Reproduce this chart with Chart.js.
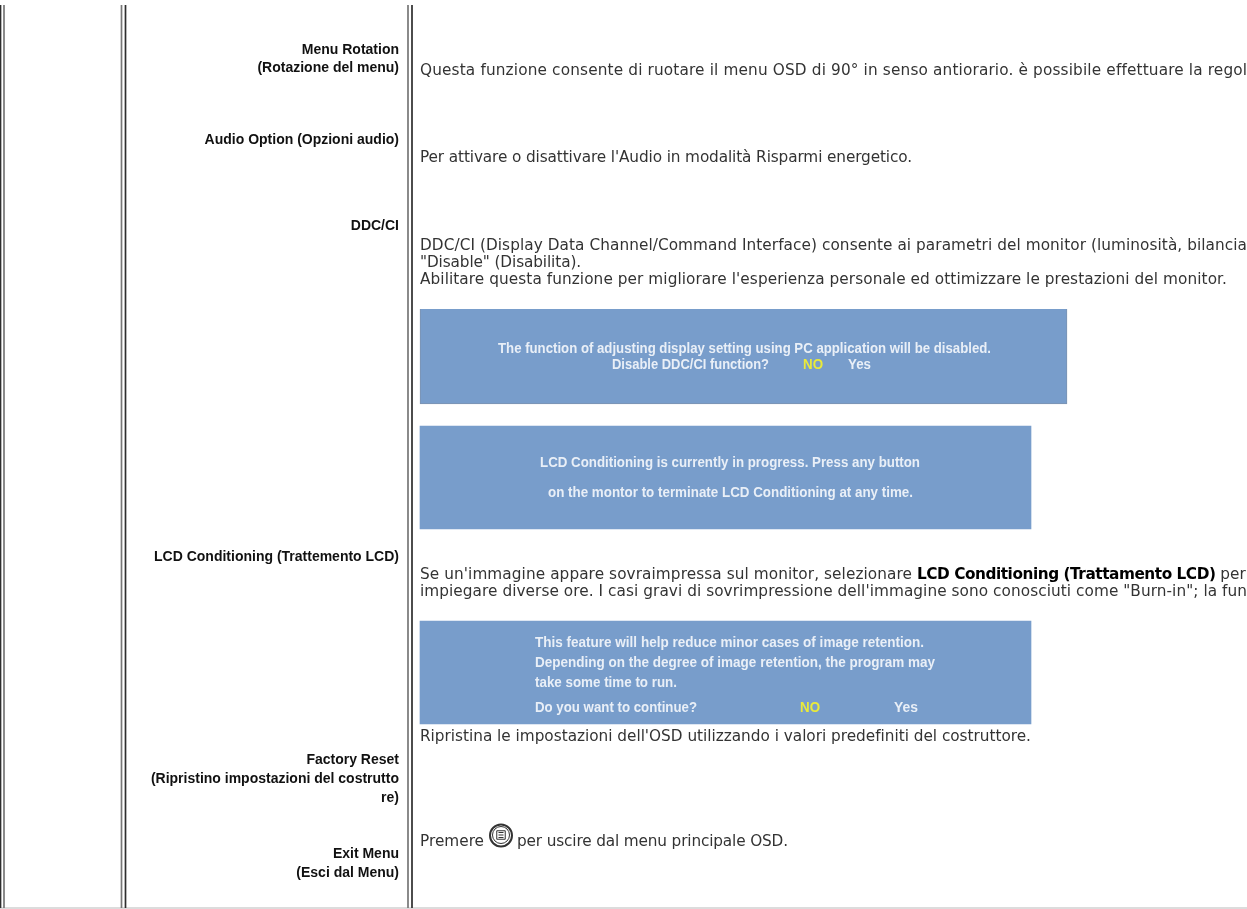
<!DOCTYPE html>
<html>
<head>
<meta charset="utf-8">
<style>
html,body{margin:0;padding:0;background:#fff;overflow:hidden}
#wrap{position:relative;width:1247px;height:909px}
</style>
<script src="https://cdn.jsdelivr.net/npm/chart.js@4/dist/chart.umd.min.js"></script>
</head>
<body>
<div id="wrap"><canvas id="chart" width="1247" height="909"></canvas></div>
<script>
// page rules and panels (axes run in px)
const ruleX = [0.5, 4, 121.5, 125.5, 408, 412]
const panelLeft = [420, 420, 420]
const panelRight = [1067, 1031, 1031]
const panelTop = [309, 426, 621]
const panelBottom = [404, 529, 724]
const iconLineY = [832.5, 835, 837.5]

const menuLabels = [
  'Menu Rotation', '(Rotazione del menu)', 'Audio Option (Opzioni audio)', 'DDC/CI',
  'LCD Conditioning (Trattemento LCD)', 'Factory Reset',
  '(Ripristino impostazioni del costrutto', 're)', 'Exit Menu', '(Esci dal Menu)'
]
const bodyLines = [
  'Questa funzione consente di ruotare il menu OSD di 90° in senso antiorario. è possibile effettuare la regol',
  "Per attivare o disattivare l'Audio in modalità Risparmi energetico.",
  'DDC/CI (Display Data Channel/Command Interface) consente ai parametri del monitor (luminosità, bilancia',
  '"Disable" (Disabilita).',
  "Abilitare questa funzione per migliorare l'esperienza personale ed ottimizzare le prestazioni del monitor.",
  'impiegare diverse ore. I casi gravi di sovrimpressione dell\'immagine sono conosciuti come "Burn-in"; la fun',
  "Ripristina le impostazioni dell'OSD utilizzando i valori predefiniti del costruttore."
]
const panelLines = [
  'The function of adjusting display setting using PC application will be disabled.',
  'Disable DDC/CI function?',
  'LCD Conditioning is currently in progress. Press any button',
  'on the montor to terminate LCD Conditioning at any time.',
  'This feature will help reduce minor cases of image retention.',
  'Depending on the degree of image retention, the program may',
  'take some time to run.',
  'Do you want to continue?'
]
const panelChoices = ['NO', 'Yes', 'NO', 'Yes']

// where the text sits
const menuY = [54, 72, 144, 230, 561, 764, 783, 802, 858, 877]
const bodyY = [75, 162, 250, 267, 284, 596, 741]
const bodyEnd = [1247, 912, 1247, 581, 1227, 1247, 1031]
const panelTextX = [498, 612, 540, 548, 535, 535, 535, 535]
const panelTextEnd = [991, 769, 920, 913, 924, 935, 677, 697]
const panelTextY = [353, 369, 467, 497, 647, 667, 687, 712]
const choiceX = [803, 848, 800, 894]
const choiceEnd = [823, 871, 820, 918]
const choiceY = [369, 369, 712, 712]

const bodyFont = '15.3px "DejaVu Sans"'
const bodyBold = 'bold 15.3px "DejaVu Sans"'
const bodyColor = '#333'

const pageText = {
  id: 'pageText',
  afterDatasetsDraw(chart) {
    const { ctx, scales: { x, y } } = chart
    ctx.save()
    ctx.textBaseline = 'alphabetic'

    ctx.fillStyle = '#111'
    ctx.textAlign = 'right'
    ctx.font = 'bold 14px "Liberation Sans"'
    menuLabels.forEach((t, i) => ctx.fillText(t, x.getPixelForValue(399), y.getPixelForValue(menuY[i])))

    ctx.textAlign = 'left'
    ctx.fillStyle = bodyColor
    ctx.font = bodyFont
    bodyLines.forEach((t, i) => {
      // the source font runs a little wider or narrower line by line
      ctx.letterSpacing = '0px'
      const gap = (bodyEnd[i] - 420 - ctx.measureText(t).width) / t.length
      ctx.letterSpacing = gap.toFixed(3) + 'px'
      ctx.fillText(t, x.getPixelForValue(420), y.getPixelForValue(bodyY[i]))
    })
    ctx.letterSpacing = '0px'

    // line with the bold run, then the line with the icon
    let cx = x.getPixelForValue(420)
    const runs = [
      ["Se un'immagine appare sovraimpressa sul monitor, selezionare ", bodyFont, bodyColor, '0.08px'],
      ['LCD Conditioning (Trattamento LCD)', bodyBold, '#000', '-0.45px'],
      [' per', bodyFont, bodyColor, '0px']
    ]
    runs.forEach(([t, font, color, spacing]) => {
      ctx.font = font
      ctx.fillStyle = color
      ctx.letterSpacing = spacing
      ctx.fillText(t, cx, y.getPixelForValue(579))
      cx += ctx.measureText(t).width
    })
    ctx.letterSpacing = '0px'
    ctx.font = bodyFont
    ctx.fillStyle = bodyColor
    ctx.fillText('Premere', x.getPixelForValue(420), y.getPixelForValue(846))
    ctx.letterSpacing = '-0.15px'
    ctx.fillText('per uscire dal menu principale OSD.', x.getPixelForValue(517), y.getPixelForValue(846))
    ctx.letterSpacing = '0px'

    // text on the blue panels, squeezed to the width it has in the picture
    ctx.font = 'bold 15.5px "Liberation Sans"'
    ctx.fillStyle = '#e9eff7'
    panelLines.forEach((t, i) => {
      ctx.fillText(t, x.getPixelForValue(panelTextX[i]), y.getPixelForValue(panelTextY[i]), panelTextEnd[i] - panelTextX[i])
    })
    panelChoices.forEach((t, i) => {
      ctx.fillStyle = t === 'NO' ? '#eaea3a' : '#e9eff7'
      ctx.fillText(t, x.getPixelForValue(choiceX[i]), y.getPixelForValue(choiceY[i]), choiceEnd[i] - choiceX[i])
    })
    ctx.restore()
  }
}

new Chart(document.getElementById('chart'), {
  data: {
    datasets: [
      // exit button icon
      { type: 'scatter', data: iconLineY.map(v => ({ x: 501, y: v })), pointStyle: 'line', pointRadius: 2.5, borderColor: '#333', borderWidth: 1, order: 0 },
      { type: 'scatter', data: [{ x: 501, y: 835 }], pointStyle: 'rect', pointRadius: 6, backgroundColor: '#fff', borderColor: '#333', borderWidth: 1, order: 1 },
      { type: 'scatter', data: [{ x: 501, y: 835 }], pointStyle: 'circle', pointRadius: 8.5, backgroundColor: '#fff', borderColor: '#333', borderWidth: 1, order: 2 },
      { type: 'scatter', data: [{ x: 501, y: 835.5 }], pointStyle: 'circle', pointRadius: 11, backgroundColor: '#fff', borderColor: '#333', borderWidth: 2, order: 3 },
      ...panelLeft.map((left, i) => ({
        type: 'bar',
        data: [{ x: (left + panelRight[i]) / 2, y: [panelTop[i], panelBottom[i]] }],
        backgroundColor: '#789dcb',
        borderColor: i === 0 ? '#7d93b0' : '#789dcb',
        borderWidth: i === 0 ? 1 : 0,
        barThickness: panelRight[i] - left,
        grouped: false,
        order: 5
      })),
      ...ruleX.map((rx, i) => ({
        type: 'line',
        data: [{ x: rx, y: 5 }, { x: rx, y: 908 }],
        borderColor: i === 1 || i === 2 || i === 4 ? '#777' : '#2e2e2e',
        borderWidth: 1.7,
        pointRadius: 0,
        order: 6
      })),
      { type: 'line', data: [{ x: 0, y: 908 }, { x: 1247, y: 908 }], borderColor: '#dcdcdc', borderWidth: 2, pointRadius: 0, order: 7 }
    ]
  },
  options: {
    responsive: false,
    animation: false,
    layout: { padding: 0, autoPadding: false },
    plugins: { legend: { display: false }, tooltip: { enabled: false } },
    scales: {
      x: { type: 'linear', min: 0, max: 1247, offset: false, display: false },
      y: { type: 'linear', min: 0, max: 909, reverse: true, display: false }
    }
  },
  plugins: [pageText]
})
</script>
</body>
</html>
